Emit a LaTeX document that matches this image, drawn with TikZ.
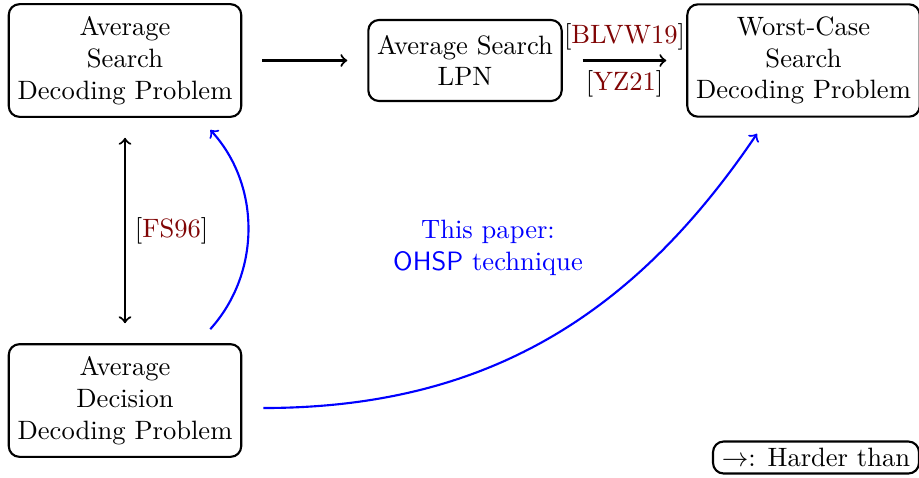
\documentclass[tikz,border=0pt]{standalone}
\usetikzlibrary{calc}
\definecolor{citered}{rgb}{0.5,0.02,0.02}
\begin{document}
\begin{tikzpicture}[x=0.3766pt,y=-0.3766pt,
  box/.style={draw,thick,rounded corners=4pt,align=center,inner ysep=4.6pt},
  arr/.style={->,thick,shorten >=7.5pt,shorten <=7.5pt},
  barr/.style={->,thick,blue}]
\useasboundingbox (0,0) rectangle (919,477);
\node[box] (A) at (125,60.5) {Average\\Search\\Decoding Problem};
\node[box,minimum height=30.5pt] (B) at (465,60.5) {Average Search\\LPN};
\node[box] (C) at (803.5,60.5) {Worst-Case\\Search\\Decoding Problem};
\node[box] (D) at (125,400.5) {Average\\Decision\\Decoding Problem};
\node[draw,thick,rounded corners=4pt,inner ysep=2.5pt] (L) at (816,457.5) {$\rightarrow$: Harder than};
\node[text=blue,align=center] (T) at (488,248) {This paper:\\\textsf{OHSP} technique};
\draw[arr] (A) -- (B);
\draw[arr] (B) -- node[above]{[\textcolor{citered}{BLVW19}]} node[below]{[\textcolor{citered}{YZ21}]} (C);
\draw[arr,<->] (A) -- node[right]{[\textcolor{citered}{FS96}]} (D);
\coordinate (d1) at ($(D.north east)+(-32,-14)$);
\coordinate (a1) at ($(A.south east)+(-32,12)$);
\coordinate (d2) at ($(D.east)+(21,7.5)$);
\coordinate (c1) at ($(C.south)+(-46.5,16)$);
\draw[barr] (d1) .. controls (261,273) and (261,185) .. (a1);
\draw[barr] (d2) .. controls (484,408) and (633,317) .. (c1);
\end{tikzpicture}
\end{document}
